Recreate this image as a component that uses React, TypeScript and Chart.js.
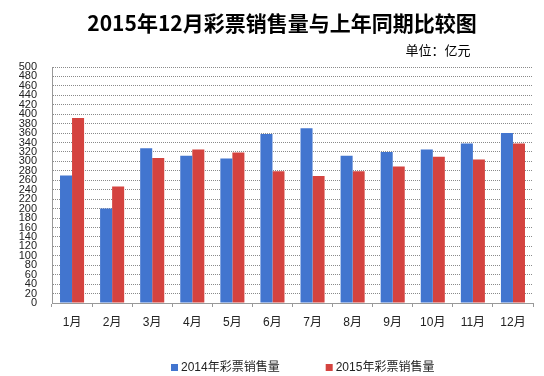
import React, { useEffect, useRef } from "react";
import { Chart, registerables } from "chart.js";

Chart.register(...registerables);

const TITLE = "2015年12月彩票销售量与上年同期比较图";
const UNIT = "单位：亿元";
const MONTHS = ["1月", "2月", "3月", "4月", "5月", "6月", "7月", "8月", "9月", "10月", "11月", "12月"];
const SERIES_2014_LABEL = "2014年彩票销售量";
const SERIES_2015_LABEL = "2015年彩票销售量";
const SALES_2014 = [270, 200, 328, 312, 306, 358, 370, 312, 320, 325, 338, 360];
const SALES_2015 = [392, 247, 307, 325, 319, 279, 269, 279, 289, 310, 304, 338];
const Y_MIN = 0;
const Y_MAX = 500;
const Y_STEP = 20;

const BLUE = "#4275cf";
const RED = "#d4433f";
const FONT = "'Liberation Sans', 'Noto Sans CJK SC', sans-serif";

const decorPlugin = {
  id: "decor",
  afterDraw(chart: any) {
    const ctx = chart.ctx;
    ctx.save();
    ctx.fillStyle = "#000";
    ctx.textBaseline = "middle";
    ctx.textAlign = "center";
    ctx.font = "bold 21px 'Noto Sans CJK SC', sans-serif";
    ctx.fillText(TITLE, 282, 23);
    ctx.font = "13px 'Noto Sans CJK SC', sans-serif";
    ctx.fillText(UNIT, 438, 50);

    // legend
    ctx.font = "12px " + FONT;
    ctx.textAlign = "left";
    let x = 171;
    const y = 368;
    chart.data.datasets.forEach((ds: any) => {
      ctx.fillStyle = ds.backgroundColor;
      ctx.fillRect(x, y - 4, 7, 7);
      ctx.fillStyle = "#222";
      ctx.fillText(ds.label, x + 10, y);
      const w = ctx.measureText(ds.label).width;
      x += 10 + w + 46;
    });
    ctx.restore();
  },
};

export default function App() {
  const ref = useRef<HTMLCanvasElement | null>(null);

  useEffect(() => {
    document.body.style.margin = "0";
    const chart = new Chart(ref.current as HTMLCanvasElement, {
      type: "bar",
      data: {
        labels: MONTHS,
        datasets: [
          {
            label: SERIES_2014_LABEL,
            data: SALES_2014,
            backgroundColor: BLUE,
            borderWidth: 0,
            categoryPercentage: 0.6,
            barPercentage: 1,
          },
          {
            label: SERIES_2015_LABEL,
            data: SALES_2015,
            backgroundColor: RED,
            borderWidth: 0,
            categoryPercentage: 0.6,
            barPercentage: 1,
          },
        ],
      },
      options: {
        animation: false,
        responsive: false,
        maintainAspectRatio: false,
        layout: { padding: { top: 67, left: 0, right: 11, bottom: 43 } },
        plugins: {
          legend: { display: false },
          title: { display: false },
          tooltip: { enabled: false },
        },
        scales: {
          x: {
            offset: true,
            afterFit(scale: any) {
              scale.height = 30;
            },
            grid: {
              offset: true,
              drawOnChartArea: false,
              drawTicks: true,
              tickLength: 4,
              color: "#999",
            },
            border: { display: true, color: "#999" },
            ticks: {
              padding: 8,
              color: "#222",
              font: { family: FONT, size: 12 },
            },
          },
          y: {
            min: Y_MIN,
            max: Y_MAX,
            afterFit(scale: any) {
              scale.width = 52;
            },
            grid: {
              drawTicks: false,
              color: "#8a8a8a",
              lineWidth: 1,
            },
            border: { display: true, color: "#999", dash: [1, 1] },
            ticks: {
              stepSize: Y_STEP,
              autoSkip: false,
              padding: 15,
              color: "#222",
              font: { family: FONT, size: 11 },
            },
          },
        },
      },
      plugins: [decorPlugin],
    });
    return () => chart.destroy();
  }, []);

  return (
    <div style={{ position: "absolute", left: 0, top: 0, width: 544, height: 376, background: "#fff" }}>
      <canvas ref={ref} width={544} height={376} style={{ width: 544, height: 376, display: "block" }} />
    </div>
  );
}
